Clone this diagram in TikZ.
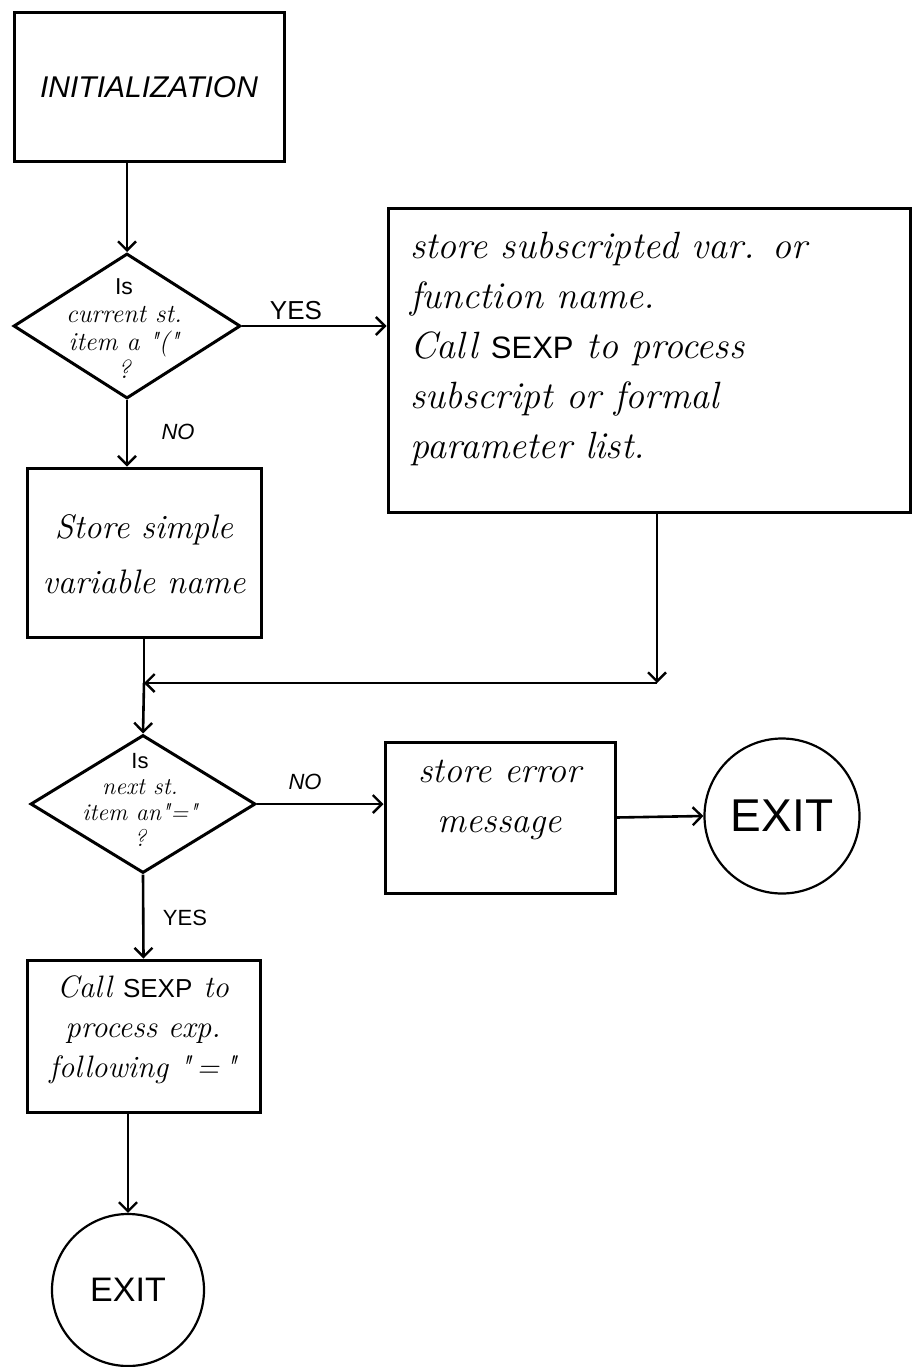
\documentclass[tikz,border=0pt]{standalone}
\usepackage{fontspec}
\newfontfamily\blockfont{Liberation Sans}
\usetikzlibrary{shapes.geometric,arrows.meta}
\begin{document}
\begin{tikzpicture}[x=1pt,y=-1pt,
  box/.style={draw, line width=3pt, inner sep=0pt},
  decision/.style={draw, diamond, line width=3pt, inner sep=0pt},
  terminal/.style={draw, circle, line width=2.2pt, inner sep=0pt},
  flow/.style={line width=2.6pt, -{Straight Barb[length=9pt,width=18pt,line width=2.4pt]}},
  plainline/.style={line width=2.6pt},
  lbl/.style={font=\blockfont\fontsize{#1}{#1}\selectfont, inner sep=0pt},
  lbli/.style={font=\blockfont\itshape\fontsize{#1}{#1}\selectfont, inner sep=0pt},
]
\useasboundingbox (0,0) rectangle (913,1367);

% process boxes
\node[box, minimum width=270, minimum height=149] (init) at (149,87.5)
  {\blockfont\itshape\fontsize{30}{30}\selectfont INITIALIZATION};
\node[box, minimum width=522, minimum height=304] (big) at (649,360) {};
\node[box, minimum width=234, minimum height=169] (simple) at (144,552.5) {};
\node[box, minimum width=230, minimum height=151] (err) at (500,817.5) {};
\node[box, minimum width=233, minimum height=152] (sexp) at (143.5,1036) {};

% decisions
\node[decision, minimum width=227, minimum height=145] (dia1) at (127,326) {};
\node[decision, minimum width=225, minimum height=138] (dia2) at (143,804) {};

% exits
\node[terminal, minimum size=155] (exit1) at (782,816)
  {\blockfont\fontsize{46}{46}\selectfont EXIT};
\node[terminal, minimum size=152] (exit2) at (128,1290)
  {\blockfont\fontsize{34}{34}\selectfont EXIT};

% texts
\node[align=center, inner sep=0pt, font=\itshape\fontsize{26}{28}\selectfont] (dia1txt) at (124,329)
  {{\upshape\blockfont\fontsize{23}{23}\selectfont Is}\\current st.\\item a \textquotedbl(\textquotedbl\\?};
\node[align=center, inner sep=0pt, font=\itshape\fontsize{24}{26}\selectfont] (dia2txt) at (140,800)
  {{\upshape\blockfont\fontsize{22}{22}\selectfont Is}\\next st.\\item an\textquotedbl=\textquotedbl\\?};
\node[anchor=north west, align=left, inner sep=0pt, font=\itshape\fontsize{38}{50}\selectfont] (bigtxt) at (410,232)
  {store subscripted var. or\\function name.\\Call {\upshape\blockfont\fontsize{31}{31}\selectfont SEXP} to process\\subscript or formal\\parameter list.};
\node[align=center, inner sep=0pt, font=\itshape\fontsize{34}{55}\selectfont] (simpletxt) at (144,554)
  {Store simple\\variable name};
\node[align=center, inner sep=0pt, font=\itshape\fontsize{36}{50}\selectfont] (errtxt) at (500,800)
  {store error\\message};
\node[align=center, inner sep=0pt, font=\itshape\fontsize{31}{40}\selectfont] (sexptxt) at (143,1030)
  {Call {\upshape\blockfont\fontsize{26}{26}\selectfont SEXP} to\\process exp.\\following \textquotedbl\,=\,\textquotedbl};

% branch labels
\node[lbl=26] (yes1) at (296,311) {YES};
\node[lbli=22] (no1) at (178,432) {NO};
\node[lbli=22] (no2) at (305,782) {NO};
\node[lbl=22] (yes2) at (185,918) {YES};

% merge point
\coordinate (turn) at (657,683);
\coordinate (join) at (144,683);

% connectors
\draw[flow] (init.south -| dia1.north) -- (dia1.north);
\draw[flow] (dia1.east) -- (dia1.east -| big.west);
\draw[flow] (dia1.south) -- (dia1.south |- simple.north);
\draw[plainline] (simple.south) -- (join);
\draw[flow] (join) -- (dia2.north);
\draw[flow] (big.south -| turn) -- (turn);
\draw[flow] (turn) -- (join);
\draw[flow] (dia2.east) -- (dia2.east -| err.west);
\draw[flow] (err.east) -- (exit1.west);
\draw[flow] (dia2.south) -- (sexp.north);
\draw[flow] (sexp.south -| exit2.north) -- (exit2.north);
\end{tikzpicture}
\end{document}
